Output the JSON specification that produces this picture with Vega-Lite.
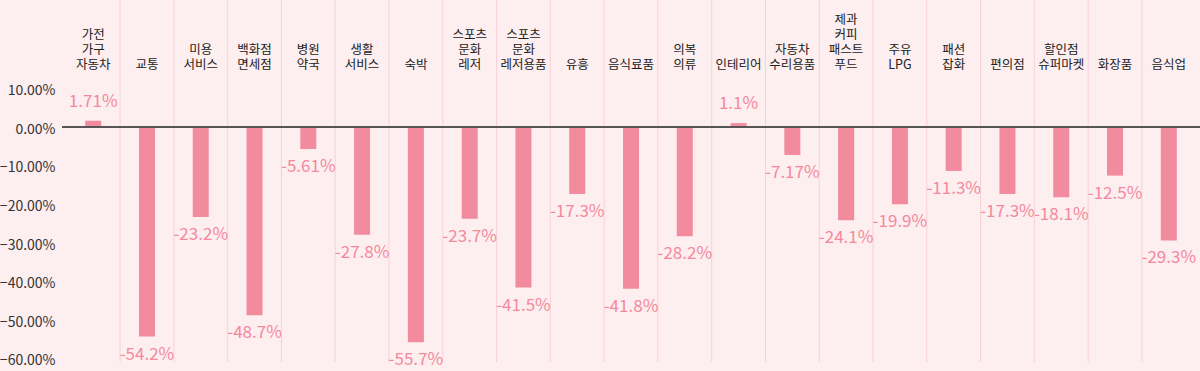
{
  "$schema": "https://vega.github.io/schema/vega-lite/v6.json",
  "width": 1138,
  "height": 362,
  "autosize": "none",
  "padding": {"left": 62, "top": 0, "right": 0, "bottom": 9},
  "background": "#fdeef0",
  "config": {"view": {"stroke": null}, "font": "Noto Sans CJK KR"},
  "data": {
    "values": [
      {"cat": "가전\n가구\n자동차", "value": 1.71, "label": "1.71%"},
      {"cat": "교통", "value": -54.2, "label": "-54.2%"},
      {"cat": "미용\n서비스", "value": -23.2, "label": "-23.2%"},
      {"cat": "백화점\n면세점", "value": -48.7, "label": "-48.7%"},
      {"cat": "병원\n약국", "value": -5.61, "label": "-5.61%"},
      {"cat": "생활\n서비스", "value": -27.8, "label": "-27.8%"},
      {"cat": "숙박", "value": -55.7, "label": "-55.7%"},
      {"cat": "스포츠\n문화\n레저", "value": -23.7, "label": "-23.7%"},
      {"cat": "스포츠\n문화\n레저용품", "value": -41.5, "label": "-41.5%"},
      {"cat": "유흥", "value": -17.3, "label": "-17.3%"},
      {"cat": "음식료품", "value": -41.8, "label": "-41.8%"},
      {"cat": "의복\n의류", "value": -28.2, "label": "-28.2%"},
      {"cat": "인테리어", "value": 1.1, "label": "1.1%"},
      {"cat": "자동차\n수리용품", "value": -7.17, "label": "-7.17%"},
      {"cat": "제과\n커피\n패스트\n푸드", "value": -24.1, "label": "-24.1%"},
      {"cat": "주유\nLPG", "value": -19.9, "label": "-19.9%"},
      {"cat": "패션\n잡화", "value": -11.3, "label": "-11.3%"},
      {"cat": "편의점", "value": -17.3, "label": "-17.3%"},
      {"cat": "할인점\n슈퍼마켓", "value": -18.1, "label": "-18.1%"},
      {"cat": "화장품", "value": -12.5, "label": "-12.5%"},
      {"cat": "음식업", "value": -29.3, "label": "-29.3%"}
    ]
  },
  "layer": [
    {
      "mark": {"type": "bar", "size": 16, "color": "#f28b9d"},
      "encoding": {
        "x": {"field": "cat", "type": "nominal", "sort": null,
              "scale": {"paddingInner": 0, "paddingOuter": 0.08}, "axis": null},
        "y": {"field": "value", "type": "quantitative",
              "scale": {"domain": [-60.8, 33], "nice": false, "zero": false},
              "axis": {"values": [-60, -50, -40, -30, -20, -10, 0, 10], "labelExpr": "format(datum.value, '.2f') + '%'",
                       "domain": false, "ticks": false, "grid": false, "title": null,
                       "labelFontSize": 14, "labelColor": "#333333", "labelPadding": 7, "labelOffset": 2}}
      }
    },
    {
      "transform": [{"filter": "datum.value !== 1.71"}],
      "mark": {"type": "rule", "color": "#f9d0d7", "strokeWidth": 1},
      "encoding": {
        "x": {"field": "cat", "type": "nominal", "sort": null, "bandPosition": 0, "axis": null}
      }
    },
    {
      "mark": {"type": "rule", "color": "#555555", "strokeWidth": 1},
      "encoding": {"y": {"datum": 0}}
    },
    {
      "transform": [{"filter": "length(split(datum.cat, '\\n')) == 1"}],
      "mark": {"type": "text", "baseline": "bottom", "lineBreak": "\n", "lineHeight": 15, "fontSize": 12.5, "color": "#222222"},
      "encoding": {
        "x": {"field": "cat", "type": "nominal", "sort": null, "axis": null},
        "y": {"datum": 14.3},
        "text": {"field": "cat"}
      }
    },
    {
      "transform": [{"filter": "length(split(datum.cat, '\\n')) == 2"}],
      "mark": {"type": "text", "baseline": "bottom", "lineBreak": "\n", "lineHeight": 15, "fontSize": 12.5, "color": "#222222", "dy": -15},
      "encoding": {
        "x": {"field": "cat", "type": "nominal", "sort": null, "axis": null},
        "y": {"datum": 14.3},
        "text": {"field": "cat"}
      }
    },
    {
      "transform": [{"filter": "length(split(datum.cat, '\\n')) == 3"}],
      "mark": {"type": "text", "baseline": "bottom", "lineBreak": "\n", "lineHeight": 15, "fontSize": 12.5, "color": "#222222", "dy": -30},
      "encoding": {
        "x": {"field": "cat", "type": "nominal", "sort": null, "axis": null},
        "y": {"datum": 14.3},
        "text": {"field": "cat"}
      }
    },
    {
      "transform": [{"filter": "length(split(datum.cat, '\\n')) == 4"}],
      "mark": {"type": "text", "baseline": "bottom", "lineBreak": "\n", "lineHeight": 15, "fontSize": 12.5, "color": "#222222", "dy": -45},
      "encoding": {
        "x": {"field": "cat", "type": "nominal", "sort": null, "axis": null},
        "y": {"datum": 14.3},
        "text": {"field": "cat"}
      }
    },
    {
      "transform": [{"filter": "datum.value > 0"}],
      "mark": {"type": "text", "baseline": "middle", "dy": -19, "fontSize": 17, "color": "#f4899c"},
      "encoding": {
        "x": {"field": "cat", "type": "nominal", "sort": null, "axis": null},
        "y": {"field": "value", "type": "quantitative"},
        "text": {"field": "label"}
      }
    },
    {
      "transform": [{"filter": "datum.value < 0"}],
      "mark": {"type": "text", "baseline": "middle", "dy": 18, "fontSize": 17, "color": "#f4899c"},
      "encoding": {
        "x": {"field": "cat", "type": "nominal", "sort": null, "axis": null},
        "y": {"field": "value", "type": "quantitative"},
        "text": {"field": "label"}
      }
    }
  ]
}
